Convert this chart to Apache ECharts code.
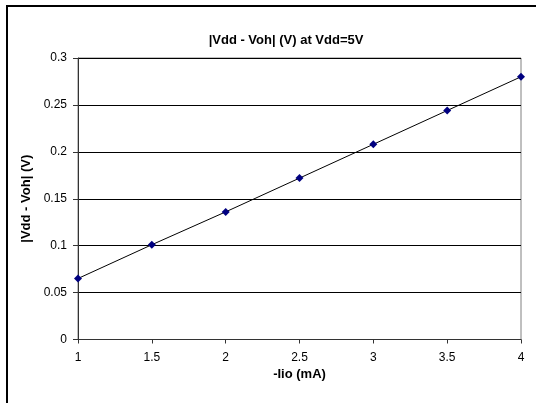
<!DOCTYPE html>
<html>
<head>
<meta charset="utf-8">
<script src="https://cdn.jsdelivr.net/npm/echarts@6/dist/echarts.min.js"></script>
<style>
  html, body { margin: 0; padding: 0; background: #fff; }
  #chart { width: 536px; height: 403px; }
</style>
</head>
<body>
<div id="chart"></div>
<script>
// Output current (mA) and the measured drop |Vdd - Voh| (V)
const currents = [1, 1.5, 2, 2.5, 3, 3.5, 4];
const drops = [0.065, 0.101, 0.136, 0.172, 0.208, 0.244, 0.280];

const titleText = '|Vdd - Voh| (V) at Vdd=5V';
const xName = '-Iio (mA)';
const yName = '|Vdd - Voh| (V)';

const font = '"Liberation Sans", Arial, sans-serif';
const chart = echarts.init(document.getElementById('chart'), null, { renderer: 'canvas' });

chart.setOption({
  animation: false,
  backgroundColor: '#fff',
  textStyle: { fontFamily: font },
  title: {
    text: titleText,
    left: 281, top: 29,
    textAlign: 'center',
    textStyle: { fontFamily: font, fontSize: 13, fontWeight: 'bold', color: '#000' }
  },
  graphic: [{
    type: 'rect',
    shape: { x: 7, y: 6, width: 700, height: 600 },
    style: { fill: 'none', stroke: '#000', lineWidth: 2 },
    silent: true
  }],
  grid: {
    left: 78, right: 15, top: 58, bottom: 63.5,
    show: true, borderColor: '#808080', borderWidth: 1, backgroundColor: 'transparent'
  },
  xAxis: {
    type: 'value', min: 1, max: 4, interval: 0.5,
    name: xName, nameLocation: 'middle', nameGap: 28,
    nameTextStyle: { fontFamily: font, fontSize: 13, fontWeight: 'bold', color: '#000' },
    axisLine: { show: true, lineStyle: { color: '#333', width: 1 } },
    axisTick: { show: true, length: 4, lineStyle: { color: '#333' } },
    axisLabel: { fontFamily: font, fontSize: 12, color: '#000', margin: 12 },
    splitLine: { show: false }
  },
  yAxis: {
    type: 'value', min: 0, max: 0.3, interval: 0.05,
    name: yName, nameLocation: 'middle', nameGap: 44, nameRotate: 90,
    nameTextStyle: { fontFamily: font, fontSize: 13, fontWeight: 'bold', color: '#000' },
    axisLine: { show: true, lineStyle: { color: '#333', width: 1 } },
    axisTick: { show: true, length: 5, lineStyle: { color: '#333' } },
    axisLabel: { fontFamily: font, fontSize: 12, color: '#000', margin: 11,
      formatter: v => String(Math.round(v * 100) / 100) },
    splitLine: { show: true, lineStyle: { color: '#000', width: 1 } }
  },
  series: [{
    type: 'line',
    data: currents.map((x, i) => [x, drops[i]]),
    symbol: 'diamond', symbolSize: 8,
    itemStyle: { color: '#000080', borderWidth: 0 },
    lineStyle: { color: '#000', width: 1 },
    clip: false
  }]
});
</script>
</body>
</html>
